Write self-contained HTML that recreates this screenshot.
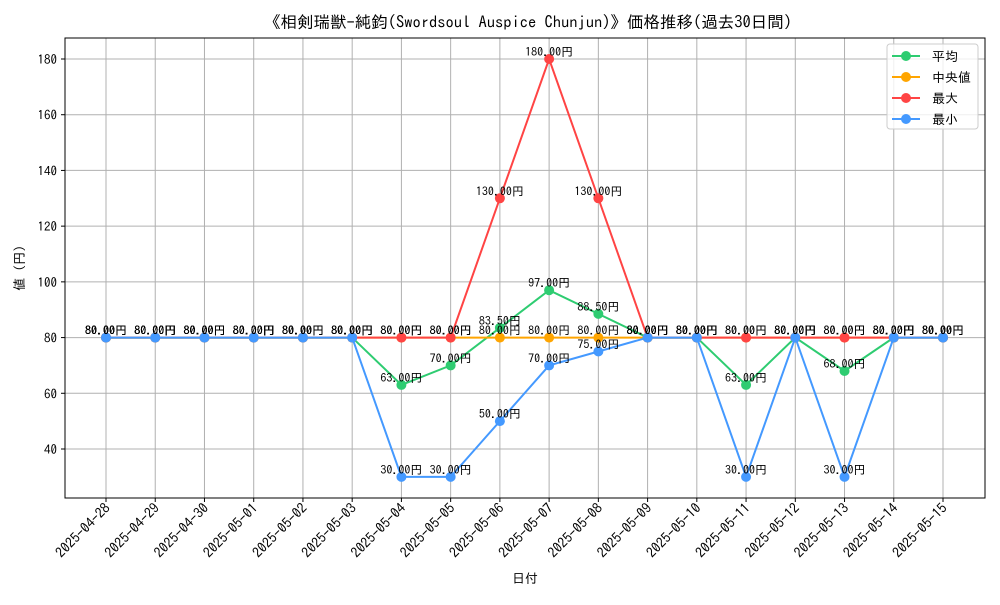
<!DOCTYPE html>
<html><head><meta charset="utf-8"><style>
body{margin:0;background:#fff}
svg text{font-family:"IPAGothic","Liberation Mono","Noto Sans CJK JP",monospace}
</style></head><body>
<svg id="chart" width="1000" height="600" xmlns="http://www.w3.org/2000/svg">
<rect width="1000" height="600" fill="#fff"/>
<text x="528" y="28" font-size="16.5" text-anchor="middle">《相剣瑞獣-純鈞(Swordsoul Auspice Chunjun)》価格推移(過去30日間)</text>
<g id="grid"></g>
<rect x="65" y="38" width="920" height="460" fill="none" stroke="#000" stroke-width="1"/>
<g id="series"></g>
<g id="labels"></g>
<text x="525" y="583" font-size="13" text-anchor="middle">日付</text>
<text x="24" y="268" font-size="13" text-anchor="middle" transform="rotate(-90 24 268)">値 (円)</text>
<g>
<rect x="887" y="44" width="91" height="85" rx="3" fill="#fff" fill-opacity="0.8" stroke="#ccc"/>
<g id="legend-items"></g>
</g>
</svg>
<script>
const dates=["2025-04-28","2025-04-29","2025-04-30","2025-05-01","2025-05-02","2025-05-03","2025-05-04","2025-05-05","2025-05-06","2025-05-07","2025-05-08","2025-05-09","2025-05-10","2025-05-11","2025-05-12","2025-05-13","2025-05-14","2025-05-15"];
const avgValues=[80,80,80,80,80,80,63,70,83.5,97,88.5,80,80,63,80,68,80,80];
const medianValues=[80,80,80,80,80,80,80,80,80,80,80,80,80,80,80,80,80,80];
const maxValues=[80,80,80,80,80,80,80,80,130,180,130,80,80,80,80,80,80,80];
const minValues=[80,80,80,80,80,80,30,30,50,70,75,80,80,30,80,30,80,80];
const yTicks=[40,60,80,100,120,140,160,180];
const seriesNames=["平均","中央値","最大","最小"];
const seriesColors=["#2ecc71","#ffa500","#ff4444","#4499ff"];
const seriesKeys=["avg","median","max","min"];
const seriesData=[avgValues,medianValues,maxValues,minValues];

const NS="http://www.w3.org/2000/svg";
function xs(i){return 106+i*(943-106)/(dates.length-1);}
function ys(v){return 449-(v-40)*(449-59)/140;}
function mk(tag,attrs,parent){const e=document.createElementNS(NS,tag);for(const k in attrs)e.setAttribute(k,attrs[k]);parent.appendChild(e);return e;}
const grid=document.getElementById('grid');
dates.forEach((d,i)=>{
  const x=xs(i);
  const l=mk('line',{x1:x,x2:x,y1:38,y2:498,stroke:'#b0b0b0','stroke-width':1},grid);
  
  
  mk('line',{x1:x,x2:x,y1:498,y2:502,stroke:'#000'},grid);
  const t=mk('text',{x:x+5,y:509,'font-size':14,'text-anchor':'end',transform:`rotate(-45 ${x+5} 509)`},grid);
  
  
  t.textContent=d;
});
yTicks.forEach(v=>{
  const y=ys(v);
  const l=mk('line',{x1:65,x2:985,y1:y,y2:y,stroke:'#b0b0b0','stroke-width':1},grid);
  
  
  mk('line',{x1:61,x2:65,y1:y,y2:y,stroke:'#000'},grid);
  const t=mk('text',{x:57,y:y+5,'font-size':13,'text-anchor':'end'},grid);
  
  
  t.textContent=v;
});
const sg=document.getElementById('series'),lg=document.getElementById('labels');
seriesData.forEach((vals,s)=>{
  const g=mk('g',{},sg);
  
  
  const p=mk('polyline',{points:vals.map((v,i)=>xs(i)+','+ys(v)).join(' '),fill:'none',stroke:seriesColors[s],'stroke-width':2},g);
  
  
  vals.forEach((v,i)=>{
    const c=mk('circle',{cx:xs(i),cy:ys(v),r:5,fill:seriesColors[s]},g);
    
    
    const t=mk('text',{x:xs(i),y:ys(v)-3,'font-size':12,'text-anchor':'middle'},lg);
    
    
    t.textContent=v.toFixed(2)+'円';
  });
});
const li=document.getElementById('legend-items');
seriesNames.forEach((n,s)=>{
  const y=56+s*21;
  const g=mk('g',{},li);
  
  
  mk('line',{x1:892,x2:920,y1:y,y2:y,stroke:seriesColors[s],'stroke-width':2},g);
  mk('circle',{cx:906,cy:y,r:5,fill:seriesColors[s]},g);
  const t=mk('text',{x:932,y:y+5,'font-size':13},g);
  t.textContent=n;
});
</script>
</body></html>
